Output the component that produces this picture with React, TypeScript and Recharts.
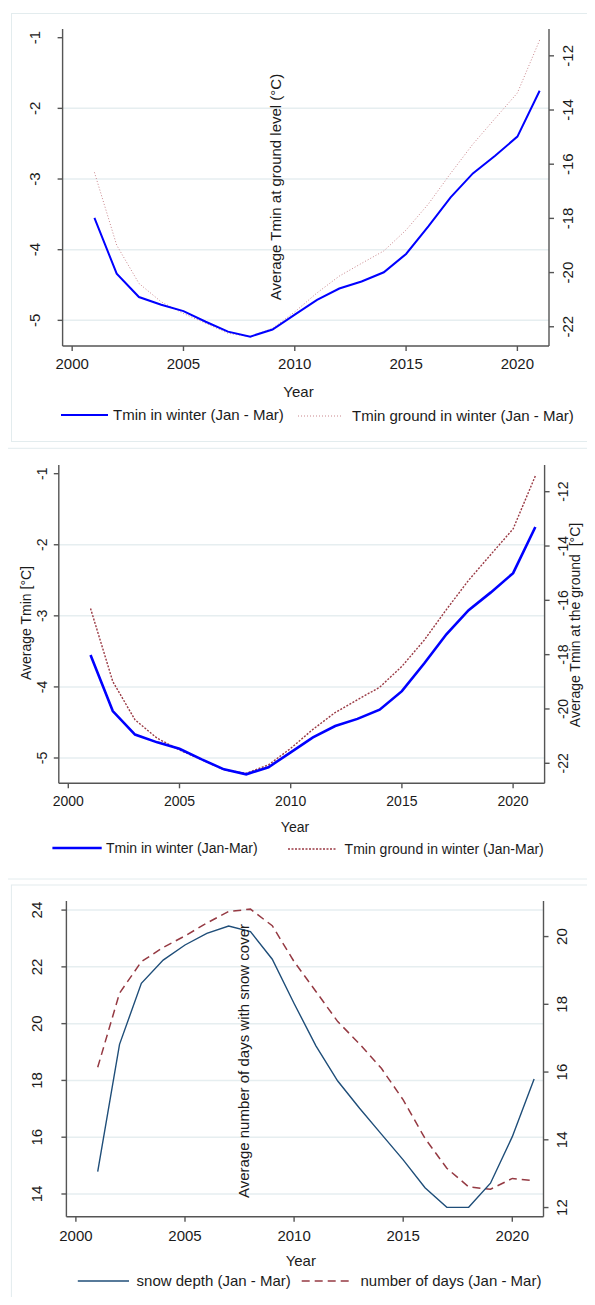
import React from 'react';
import { LineChart, Line, XAxis, YAxis, ReferenceLine } from 'recharts';

// values
const years = [2001, 2002, 2003, 2004, 2005, 2006, 2007, 2008, 2009, 2010, 2011, 2012, 2013, 2014, 2015, 2016, 2017, 2018, 2019, 2020, 2021];
const tminWinter = [-3.55, -4.34, -4.67, -4.78, -4.87, -5.02, -5.16, -5.23, -5.13, -4.92, -4.71, -4.55, -4.45, -4.32, -4.06, -3.67, -3.26, -2.92, -2.67, -2.4, -1.75];
const tminGround = [-16.3, -18.99, -20.4, -21.08, -21.51, -21.87, -22.24, -22.37, -22.06, -21.45, -20.75, -20.13, -19.66, -19.2, -18.43, -17.47, -16.34, -15.26, -14.31, -13.37, -11.42];
const snowDepth = [14.79, 19.27, 21.42, 22.24, 22.77, 23.18, 23.44, 23.24, 22.27, 20.71, 19.22, 17.98, 17.02, 16.11, 15.2, 14.22, 13.53, 13.53, 14.38, 16.02, 18.05];
const snowDays = [16.14, 18.33, 19.26, 19.68, 20.02, 20.4, 20.74, 20.81, 20.32, 19.26, 18.38, 17.49, 16.83, 16.11, 15.18, 14.04, 13.16, 12.61, 12.54, 12.86, 12.79];

const yearTicks = [2000, 2005, 2010, 2015, 2020];
const tminTicks = [-5, -4, -3, -2, -1];
const tminGrid = [-5, -4, -3, -2];
const groundTicks = [-22, -20, -18, -16, -14, -12];
const depthTicks = [14, 16, 18, 20, 22, 24];
const daysTicks = [12, 14, 16, 18, 20];

const tempRows = years.map((year, i) => ({ year, tmin: tminWinter[i], ground: tminGround[i] }));
const snowRows = years.map((year, i) => ({ year, depth: snowDepth[i], days: snowDays[i] }));

const FONT = '"Liberation Sans", Arial, sans-serif';
const INK = '#1b1b1b';
const AXIS = '#555';
const GRID = '#e6eef0';
const FRAME = '#e3ecee';

// rotated tick labels like Stata's vertical labels
const sideTick = (dx: number, size: number) => (props: any) => {
    const bx = props.x + dx;
    return (
        <text x={bx} y={props.y} transform={`rotate(-90 ${bx} ${props.y})`} textAnchor="middle" fontSize={size} fill={INK} fontFamily={FONT}>
            {props.payload.value}
        </text>
    );
};

const yearTick = (dy: number, size: number) => (props: any) => (
    <text x={props.x} y={props.y + dy} textAnchor="middle" fontSize={size} fill={INK} fontFamily={FONT}>
        {props.payload.value}
    </text>
);

interface PanelProps {
    top: number;
    height: number;
    margin: { top: number; right: number; bottom: number; left: number };
    rows: any[];
    xDomain: [number, number];
    leftDomain: [number, number];
    rightDomain: [number, number];
    leftTicks: number[];
    rightTicks: number[];
    grid: number[];
    leftKey: string;
    rightKey: string;
    leftStroke: { color: string; width: number; dash?: string };
    rightStroke: { color: string; width: number; dash?: string };
    tickDx: [number, number];
    tickDy: number;
    fontSize: number;
}

const Panel = (p: PanelProps) => (
    <div style={{ position: 'absolute', left: 0, top: p.top }}>
        <LineChart width={595} height={p.height} data={p.rows} margin={p.margin}>
            <XAxis
                dataKey="year"
                type="number"
                domain={p.xDomain}
                ticks={yearTicks}
                allowDataOverflow
                height={30}
                stroke={AXIS}
                strokeWidth={1.4}
                tickSize={5}
                tick={yearTick(p.tickDy, p.fontSize)}
            />
            <YAxis
                yAxisId="left"
                domain={p.leftDomain}
                ticks={p.leftTicks}
                allowDataOverflow
                width={50}
                stroke={AXIS}
                strokeWidth={1.4}
                tickSize={5}
                tick={sideTick(p.tickDx[0], p.fontSize)}
            />
            <YAxis
                yAxisId="right"
                orientation="right"
                domain={p.rightDomain}
                ticks={p.rightTicks}
                allowDataOverflow
                width={40}
                stroke={AXIS}
                strokeWidth={1.4}
                tickSize={5}
                tick={sideTick(p.tickDx[1], p.fontSize)}
            />
            {p.grid.map(v => (
                <ReferenceLine key={v} yAxisId="left" y={v} stroke={GRID} strokeWidth={1.5} />
            ))}
            <Line
                yAxisId="right"
                dataKey={p.rightKey}
                type="linear"
                stroke={p.rightStroke.color}
                strokeWidth={p.rightStroke.width}
                strokeDasharray={p.rightStroke.dash}
                dot={false}
                activeDot={false}
                isAnimationActive={false}
            />
            <Line
                yAxisId="left"
                dataKey={p.leftKey}
                type="linear"
                stroke={p.leftStroke.color}
                strokeWidth={p.leftStroke.width}
                strokeDasharray={p.leftStroke.dash}
                dot={false}
                activeDot={false}
                isAnimationActive={false}
            />
        </LineChart>
    </div>
);

const txt = { fontFamily: FONT, fill: INK } as const;

const App = () => {
    return (
        <div style={{ position: 'relative', width: 595, height: 1305, margin: -8, background: '#fff', overflow: 'hidden' }}>
            <Panel
                top={0}
                height={440}
                margin={{ top: 29, right: 6, bottom: 64, left: 12.6 }}
                rows={tempRows}
                xDomain={[1999.57, 2021.42]}
                leftDomain={[-5.363, -0.877]}
                rightDomain={[-22.71, -11.01]}
                leftTicks={tminTicks}
                rightTicks={groundTicks}
                grid={tminGrid}
                leftKey="tmin"
                rightKey="ground"
                leftStroke={{ color: '#0000ff', width: 2 }}
                rightStroke={{ color: '#c9868c', width: 1, dash: '1 2' }}
                tickDx={[-15.8, 17]}
                tickDy={16.3}
                fontSize={15}
            />
            <Panel
                top={440}
                height={440}
                margin={{ top: 25, right: 10.4, bottom: 66.7, left: 8.8 }}
                rows={tempRows}
                xDomain={[1999.573, 2021.416]}
                leftDomain={[-5.356, -0.878]}
                rightDomain={[-22.737, -11.017]}
                leftTicks={tminTicks}
                rightTicks={groundTicks}
                grid={tminGrid}
                leftKey="tmin"
                rightKey="ground"
                leftStroke={{ color: '#0000ff', width: 2.6 }}
                rightStroke={{ color: '#9a3a44', width: 1.4, dash: '2 1.5' }}
                tickDx={[-4.4, 16.4]}
                tickDy={15.4}
                fontSize={14}
            />
            <Panel
                top={875}
                height={430}
                margin={{ top: 26, right: 11.5, bottom: 58.3, left: 16.4 }}
                rows={snowRows}
                xDomain={[1999.565, 2021.43]}
                leftDomain={[13.2, 24.32]}
                rightDomain={[11.73, 21.05]}
                leftTicks={depthTicks}
                rightTicks={daysTicks}
                grid={depthTicks}
                leftKey="depth"
                rightKey="days"
                leftStroke={{ color: '#1f4e79', width: 1.4 }}
                rightStroke={{ color: '#953a43', width: 1.5, dash: '8 5' }}
                tickDx={[-17, 17]}
                tickDy={17}
                fontSize={15}
            />
            <svg width={595} height={1305} style={{ position: 'absolute', left: 0, top: 0, pointerEvents: 'none' }}>
                {/* panel frames */}
                <rect x={11.5} y={13.5} width={600} height={428} fill="none" stroke={FRAME} />
                <rect x={5.7} y={448.3} width={600} height={430.7} fill="none" stroke={FRAME} />
                <rect x={11.4} y={885} width={600} height={500} fill="none" stroke={FRAME} />

                {/* panel 1 */}
                <text {...txt} x={281.4} y={187} fontSize={15} textAnchor="middle" transform="rotate(-90 281.4 187)">
                    Average Tmin at ground level (°C)
                </text>
                <text {...txt} x={298.5} y={396.5} fontSize={15} textAnchor="middle">Year</text>
                <line x1={61} y1={415} x2={108} y2={415} stroke="#0000ff" strokeWidth={2} />
                <text {...txt} x={113} y={419.5} fontSize={15}>Tmin in winter (Jan - Mar)</text>
                <line x1={298} y1={416} x2={343} y2={416} stroke="#c9868c" strokeWidth={1} strokeDasharray="1 2" />
                <text {...txt} x={352} y={421} fontSize={15}>Tmin ground in winter (Jan - Mar)</text>

                {/* panel 2 */}
                <text {...txt} x={31} y={623} fontSize={14} textAnchor="middle" transform="rotate(-90 31 623)">
                    Average Tmin [°C]
                </text>
                <text {...txt} x={579.5} y={625} fontSize={14} textAnchor="middle" transform="rotate(-90 579.5 625)" style={{ whiteSpace: 'pre' }}>
                    {'Average Tmin at the ground  [°C]'}
                </text>
                <text {...txt} x={295} y={831.7} fontSize={14} textAnchor="middle">Year</text>
                <line x1={52.4} y1={848} x2={101.7} y2={848} stroke="#0000ff" strokeWidth={2.6} />
                <text {...txt} x={106} y={853} fontSize={14}>Tmin in winter (Jan-Mar)</text>
                <line x1={288} y1={849} x2={337} y2={849} stroke="#9a3a44" strokeWidth={1.4} strokeDasharray="2 1.5" />
                <text {...txt} x={344.6} y={854} fontSize={14}>Tmin ground in winter (Jan-Mar)</text>

                {/* panel 3 */}
                <text {...txt} x={249.2} y={1061} fontSize={15} textAnchor="middle" transform="rotate(-90 249.2 1061)">
                    Average number of days with snow cover
                </text>
                <text {...txt} x={300.8} y={1265.5} fontSize={15} textAnchor="middle">Year</text>
                <line x1={77.8} y1={1281} x2={129} y2={1281} stroke="#1f4e79" strokeWidth={1.4} />
                <text {...txt} x={136.6} y={1285.5} fontSize={15}>snow depth (Jan - Mar)</text>
                <line x1={301.7} y1={1281} x2={353} y2={1281} stroke="#953a43" strokeWidth={1.5} strokeDasharray="8 5" />
                <text {...txt} x={360.5} y={1285.5} fontSize={15}>number of days (Jan - Mar)</text>
            </svg>
        </div>
    );
};

export default App;
